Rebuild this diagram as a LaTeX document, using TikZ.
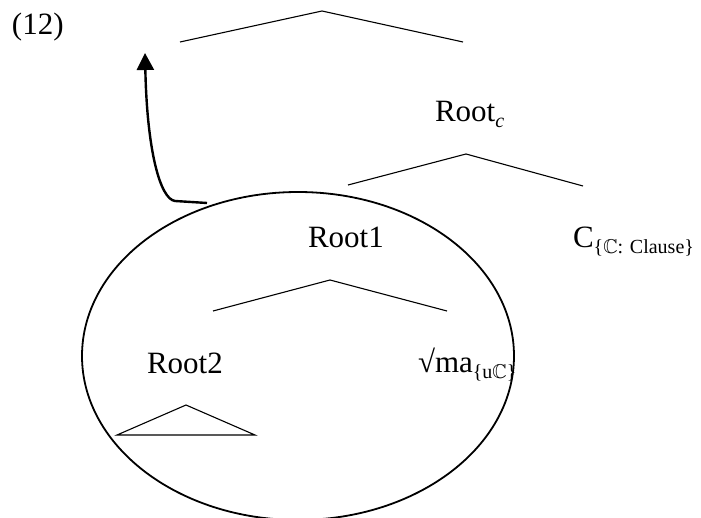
\documentclass[tikz,border=0pt]{standalone}
\usepackage{fontspec}
\usepackage{amssymb}
\setmainfont{Liberation Serif}
\usetikzlibrary{arrows.meta,shapes.geometric}
% lowered, smaller index text
\newcommand{\lowsub}[1]{\raisebox{-6pt}{\fontsize{20}{24}\selectfont #1}}
\begin{document}
\begin{tikzpicture}[x=1pt,y=-1pt,
  every node/.style={inner sep=0pt,outer sep=0pt,font=\fontsize{31}{37}\selectfont},
  txt/.style={anchor=base west},
  branch/.style={line width=1.1pt},
  ring/.style={draw,ellipse,line width=1.8pt},
  move/.style={line width=2.4pt,-{Triangle[width=17pt,length=17pt]}}]
  \useasboundingbox (0,0) rectangle (701,518);

  % labels
  \node[txt] (num)   at (12,35)   {(12)};
  \node[txt] (rootc) at (435,122) {Root\lowsub{\itshape c}};
  \node[txt] (root1) at (308,248) {Root1};
  \node[txt] (cnode) at (573,248) {C\lowsub{\{$\mathbb{C}$: Clause\}}};
  \node[txt] (root2) at (147,373) {Root2};
  \node[txt] (ma)    at (418,372) {√ma\lowsub{\{u$\mathbb{C}$\}}};

  % branch points
  \coordinate (t0) at (322,11);
  \coordinate (tl) at (180,42);
  \coordinate (tr) at (463,42);
  \coordinate (c0) at (466,154);
  \coordinate (cl) at (348,185);
  \coordinate (cr) at (583,186);
  \coordinate (r0) at (330,280);
  \coordinate (rl) at (213,311);
  \coordinate (rr) at (447,311);
  \coordinate (a0) at (186,405);
  \coordinate (al) at (117,435);
  \coordinate (ar) at (255,435);

  \draw[branch] (tl) -- (t0) -- (tr);
  \draw[branch] (cl) -- (c0) -- (cr);
  \draw[branch] (rl) -- (r0) -- (rr);
  \draw[branch] (al) -- (a0) -- (ar) -- cycle;

  % circled constituent
  \node[ring,minimum width=432pt,minimum height=328pt] (circ) at (298,356) {};

  % movement arrow
  \coordinate (from) at (207,203);
  \coordinate (to) at (145,53);
  \draw[move] (from) -- (175,201) .. controls (160,199) and (147,150) .. (to);
\end{tikzpicture}
\end{document}
